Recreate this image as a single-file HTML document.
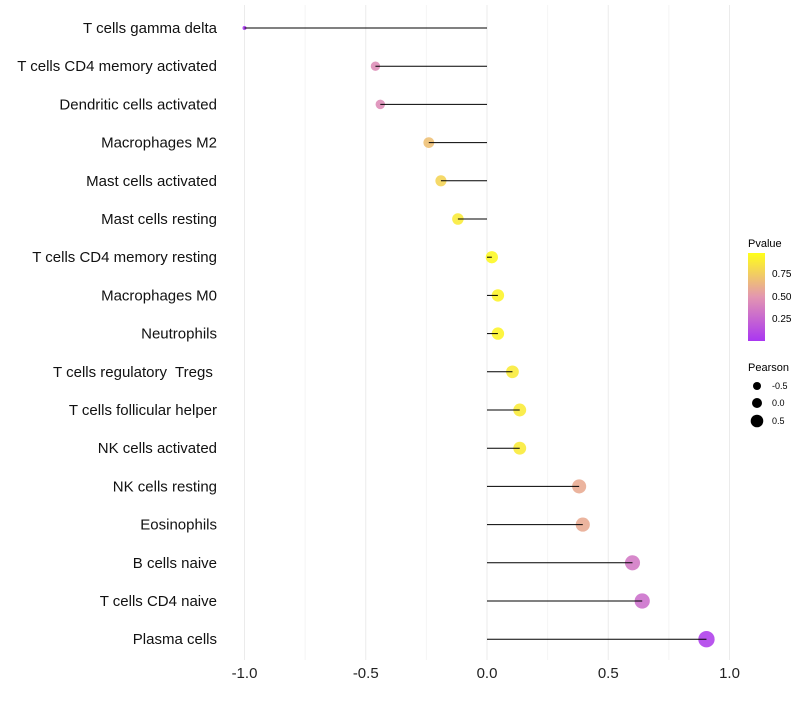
<!DOCTYPE html>
<html><head><meta charset="utf-8"><style>
body{margin:0;background:#fff;font-family:"Liberation Sans",sans-serif}
</style></head><body>
<svg id="c" width="800" height="700" xmlns="http://www.w3.org/2000/svg">
<defs><linearGradient id="pg" x1="0" y1="1" x2="0" y2="0">
<stop offset="0" stop-color="#a020f0"/><stop offset="0.5" stop-color="#e08aa8"/><stop offset="1" stop-color="#ffff00"/>
</linearGradient></defs>
<g id="grid"></g><g id="marks"></g><g id="labels"></g>
<g font-size="10">
<text x="748" y="247" font-size="11">Pvalue</text>
<rect x="748" y="253" width="17" height="88" fill="url(#pg)" opacity="0.9"/>
<text x="772" y="277">0.75</text><text x="772" y="300">0.50</text><text x="772" y="322">0.25</text>
</g>
<g font-size="9">
<text x="748" y="371" font-size="11">Pearson</text>
<circle cx="757" cy="386" r="4"/><text x="772" y="389">-0.5</text>
<circle cx="757" cy="403" r="5"/><text x="772" y="406">0.0</text>
<circle cx="757" cy="421" r="6.3"/><text x="772" y="424">0.5</text>
</g>
</svg>
<script>
const categories=["T cells gamma delta","T cells CD4 memory activated","Dendritic cells activated","Macrophages M2","Mast cells activated","Mast cells resting","T cells CD4 memory resting","Macrophages M0","Neutrophils","T cells regulatory  Tregs ","T cells follicular helper","NK cells activated","NK cells resting","Eosinophils","B cells naive","T cells CD4 naive","Plasma cells"];
const pearson=[-1.0,-0.46,-0.44,-0.24,-0.19,-0.12,0.02,0.045,0.045,0.105,0.135,0.135,0.38,0.395,0.60,0.64,0.905];
const pvalue=[0.0,0.45,0.45,0.7,0.8,0.9,0.97,0.95,0.95,0.9,0.9,0.9,0.6,0.6,0.35,0.3,0.05];
const xTicks=[-1.0,-0.5,0.0,0.5,1.0];
const NS="http://www.w3.org/2000/svg";
const X=v=>487+v*242.5;
const Y=i=>28+i*38.2;
function col(p){const s=[[160,32,240],[224,138,168],[255,255,0]];let a,b,t;if(p<0.5){a=s[0];b=s[1];t=p/0.5}else{a=s[1];b=s[2];t=(p-0.5)/0.5}
return `rgb(${a.map((c,k)=>Math.round(c+(b[k]-c)*t)).join(',')})`}
function mk(tag,attrs,parent){const e=document.createElementNS(NS,tag);for(const k in attrs)e.setAttribute(k,attrs[k]);parent.appendChild(e);return e}
const g=document.getElementById('grid'),m=document.getElementById('marks'),l=document.getElementById('labels');
for(let v=-1;v<=1.001;v+=0.25){const e=mk('line',{x1:X(v),x2:X(v),y1:5,y2:660,stroke:Math.abs(v*2-Math.round(v*2))<0.01?'#ebebeb':'#f4f4f4','stroke-width':1},g);

}
xTicks.forEach(v=>{const t=mk('text',{x:X(v),y:678,'text-anchor':'middle','font-size':15,fill:'#222'},l);t.textContent=v.toFixed(1);

});
categories.forEach((c,i)=>{const y=Y(i);
const t=mk('text',{x:217,y:y+5,'text-anchor':'end','font-size':15,fill:'#111',style:'white-space:pre'},l);t.textContent=c;


const r=Math.sqrt(4+33*(pearson[i]+1));
const ci=mk('circle',{cx:X(pearson[i]),cy:y,r:r,fill:col(pvalue[i]),'fill-opacity':0.8},m);


const ln=mk('line',{x1:X(0),x2:X(pearson[i]),y1:y,y2:y,stroke:'#000','stroke-width':1},m);

});
</script>
</body></html>
